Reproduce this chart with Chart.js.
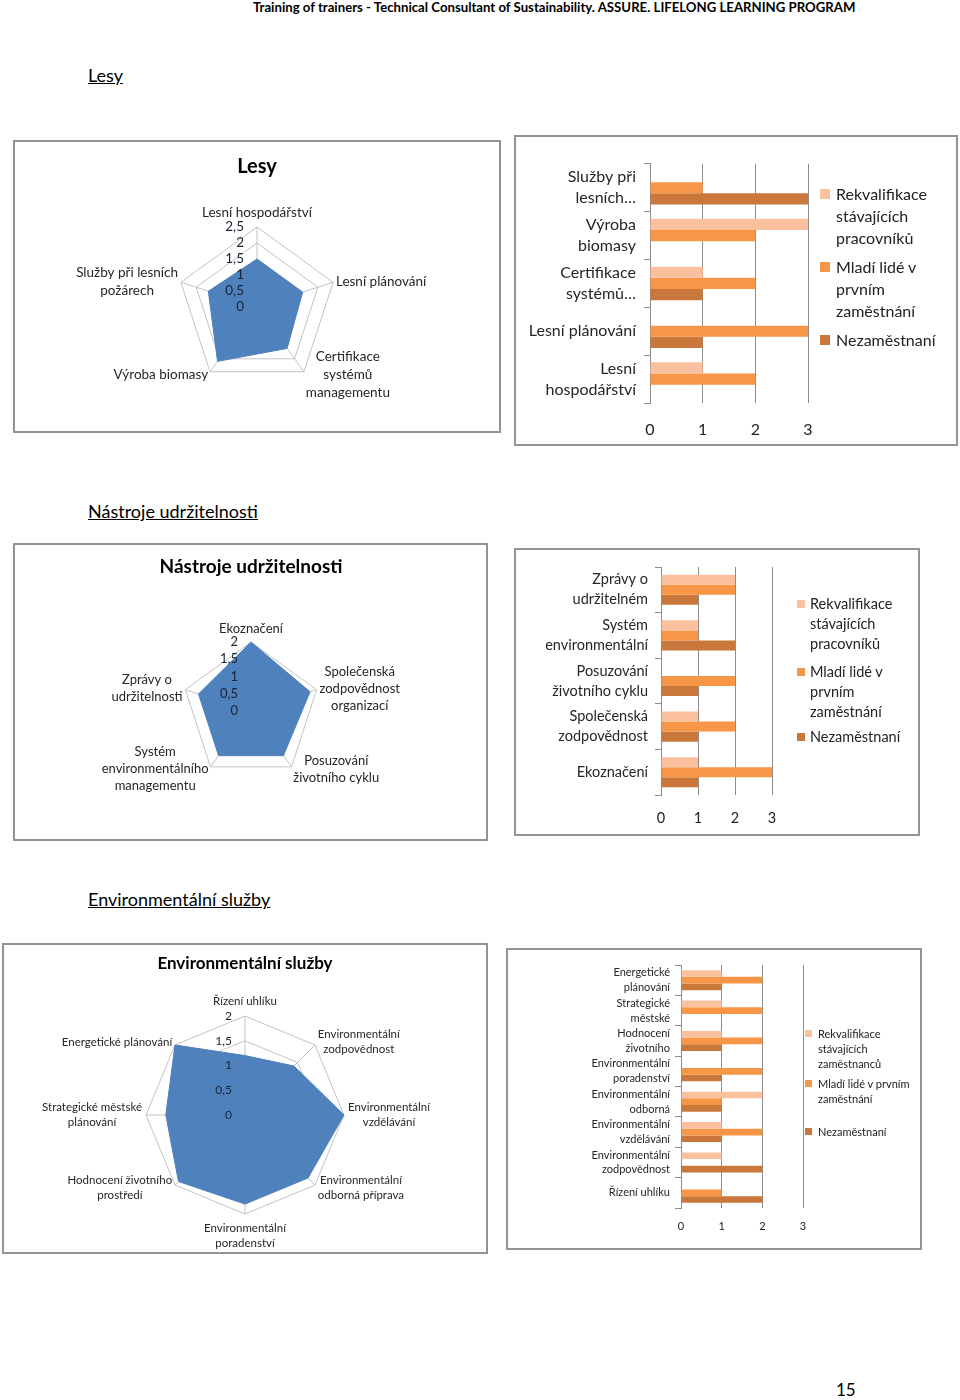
<!DOCTYPE html>
<html>
<head>
<meta charset="utf-8">
<script src="https://cdn.jsdelivr.net/npm/chart.js@4.4.1/dist/chart.umd.min.js"></script>
<style>
  body { margin: 0; background: #fff; font-family: Lato, "Open Sans", sans-serif; color: #000; }
  .page { position: relative; width: 960px; height: 1400px; overflow: hidden; }
  .hdr { position: absolute; left: 253px; top: 0; font-size: 13.2px; font-weight: bold; line-height: 15px; white-space: nowrap; }
  .h2 { position: absolute; left: 88px; font-size: 18px; line-height: 22px; text-decoration: underline; }
  .box { position: absolute; background: #fff; box-shadow: inset 0 0 0 2px #939393; }
  .box canvas { position: absolute; left: 0; top: 0; }
  .rtitle { position: absolute; width: 300px; text-align: center; font-weight: bold; white-space: nowrap; }
  .leg { position: absolute; color: #222; white-space: nowrap; }
  .leg i { position: absolute; left: 0; }
  .pno { position: absolute; left: 836px; top: 1380px; font-size: 17px; line-height: 20px; }
</style>
</head>
<body>
<div class="page">
  <div class="hdr">Training of trainers - Technical Consultant of Sustainability. ASSURE. LIFELONG LEARNING PROGRAM</div>

  <div class="h2" style="top:64px">Lesy</div>
  <div class="box" id="lesyRadarBox" style="left:13px;top:140px;width:488px;height:293px"><canvas id="lesyRadar" width="488" height="293"></canvas></div>
  <div class="box" id="lesyBox" style="left:514px;top:135px;width:444px;height:311px"><canvas id="lesyBar" width="444" height="311"></canvas></div>

  <div class="h2" style="top:500px">Nástroje udržitelnosti</div>
  <div class="box" id="nastrojeRadarBox" style="left:13px;top:543px;width:475px;height:298px"><canvas id="nastrojeRadar" width="475" height="298"></canvas></div>
  <div class="box" id="nastrojeBox" style="left:514px;top:548px;width:406px;height:288px"><canvas id="nastrojeBar" width="406" height="288"></canvas></div>

  <div class="h2" style="top:888px">Environmentální služby</div>
  <div class="box" id="sluzbyRadarBox" style="left:2px;top:943px;width:486px;height:311px"><canvas id="sluzbyRadar" width="486" height="311"></canvas></div>
  <div class="box" id="sluzbyBox" style="left:506px;top:948px;width:416px;height:302px"><canvas id="sluzbyBar" width="416" height="302"></canvas></div>

  <div class="pno">15</div>
</div>

<script>
// --- Lesy ---
const lesyAxes = ["Lesní hospodářství", "Lesní plánování", ["Certifikace", "systémů", "managementu"], "Výroba biomasy", ["Služby při lesních", "požárech"]];
const lesyRadarValues = [1.5, 1.5, 1.6, 2.1, 1.6];
const lesyCategories = [["Služby při", "lesních…"], ["Výroba", "biomasy"], ["Certifikace", "systémů…"], "Lesní plánování", ["Lesní", "hospodářství"]];
const lesyRekvalifikace = [0, 3, 1, 0, 1];
const lesyMladi = [1, 2, 2, 3, 2];
const lesyNezamestnani = [3, 0, 1, 1, 0];

// --- Nástroje udržitelnosti ---
const nastrojeAxes = ["Ekoznačení", ["Společenská", "zodpovědnost", "organizací"], ["Posuzování", "životního cyklu"], ["Systém", "environmentálního", "managementu"], ["Zprávy o", "udržitelnosti"]];
const nastrojeRadarValues = [2, 1.8, 1.6, 1.6, 1.6];
const nastrojeCategories = [["Zprávy o", "udržitelném"], ["Systém", "environmentální"], ["Posuzování", "životního cyklu"], ["Společenská", "zodpovědnost"], "Ekoznačení"];
const nastrojeRekvalifikace = [2, 1, 0, 1, 1];
const nastrojeMladi = [2, 1, 2, 2, 3];
const nastrojeNezamestnani = [1, 2, 1, 1, 1];

// --- Environmentální služby ---
const sluzbyAxes = ["Řízení uhlíku", ["Environmentální", "zodpovědnost"], ["Environmentální", "vzdělávání"], ["Environmentální", "odborná příprava"], ["Environmentální", "poradenství"], ["Hodnocení životního", "prostředí"], ["Strategické městské", "plánování"], "Energetické plánování"];
const sluzbyRadarValues = [1.2, 1.4, 2, 1.8, 1.8, 1.9, 1.6, 2];
const sluzbyCategories = [["Energetické", "plánování"], ["Strategické", "městské"], ["Hodnocení", "životního"], ["Environmentální", "poradenství"], ["Environmentální", "odborná"], ["Environmentální", "vzdělávání"], ["Environmentální", "zodpovědnost"], "Řízení uhlíku"];
const sluzbyRekvalifikace = [1, 1, 1, 0, 2, 1, 1, 0];
const sluzbyMladi = [2, 2, 2, 2, 1, 2, 0, 1];
const sluzbyNezamestnani = [1, 0, 1, 1, 1, 1, 2, 2];

// legend names (line breaks as in the original legends)
const seriesPracovniku = [["Rekvalifikace", "stávajících", "pracovníků"], ["Mladí lidé v", "prvním", "zaměstnání"], ["Nezaměstnaní"]];
const seriesZamestnancu = [["Rekvalifikace", "stávajících", "zaměstnanců"], ["Mladí lidé v prvním", "zaměstnání"], ["Nezaměstnaní"]];
const seriesColors = ["#FBC09E", "#F79646", "#C9773A"];

const FONT = "Lato, 'Open Sans', sans-serif";
Chart.defaults.font.family = FONT;
Chart.defaults.color = "#222";

function fmt(v) {
  return String(v).replace(".", ",");
}

// tick numbers left of the vertical axis and the point labels, placed with the scale
const radarText = {
  id: "radarText",
  afterDatasetsDraw(chart, args, opts) {
    const s = chart.scales.r;
    const ctx = chart.ctx;
    ctx.save();
    ctx.textBaseline = "middle";
    ctx.fillStyle = "#1b2335";
    ctx.textAlign = "right";
    ctx.font = `${opts.tickSize}px ${FONT}`;
    s.ticks.forEach((t) => {
      const p = s.getPointPositionForValue(0, t.value);
      ctx.fillText(fmt(t.value), p.x - 13, p.y);
    });

    ctx.fillStyle = "#262626";
    ctx.textAlign = "center";
    ctx.font = `${opts.labelSize}px ${FONT}`;
    chart.data.labels.forEach((lab, i) => {
      const lines = [].concat(lab);
      const p = s.getPointPosition(i, s.drawingArea + opts.pad);
      const c = Math.cos(p.angle), sn = Math.sin(p.angle);
      const bw = Math.max(...lines.map((l) => ctx.measureText(l).width));
      const bh = lines.length * opts.lineHeight;
      let left, top;
      if (Math.abs(c) < 0.1) {
        left = p.x - bw / 2;
        top = sn < 0 ? p.y - opts.vpad - bh : p.y + opts.vpad;
      } else {
        left = c > 0 ? p.x : p.x - bw;
        top = p.y - bh / 2;
      }
      lines.forEach((l, k) => ctx.fillText(l, left + bw / 2, top + opts.lineHeight * (k + 0.5)));
    });
    ctx.restore();
  },
};

function radarChart(id, boxId, axes, values, o) {
  new Chart(document.getElementById(id), {
    type: "radar",
    data: {
      labels: axes,
      datasets: [{
        data: values,
        backgroundColor: "#4F81BD",
        borderColor: "#4F81BD",
        borderWidth: 1,
        pointRadius: 0,
        fill: true,
      }],
    },
    options: {
      responsive: false,
      animation: false,
      layout: { padding: { left: o.cx - o.r, right: o.w - o.cx - o.r, top: o.cy - o.r, bottom: o.h - o.cy - o.r } },
      plugins: {
        legend: { display: false },
        tooltip: { enabled: false },
        radarText: o.text,
      },
      scales: {
        r: {
          min: 0,
          max: o.max,
          ticks: { stepSize: 0.5, display: false },
          pointLabels: { display: false },
          grid: { color: "#c3c3c3" },
          angleLines: { color: "#c3c3c3" },
        },
      },
    },
    plugins: [radarText],
  });

  // chart title, centred over the radar
  const t = document.createElement("div");
  t.className = "rtitle";
  t.textContent = o.title;
  t.style.cssText = `left:${o.cx - 150}px;top:${o.titleY - o.titleSize * 0.6}px;font-size:${o.titleSize}px;line-height:${o.titleSize * 1.2}px`;
  document.getElementById(boxId).appendChild(t);
}

function barChart(id, boxId, categories, series, names, o) {
  new Chart(document.getElementById(id), {
    type: "bar",
    data: {
      labels: categories,
      datasets: series.map((d, i) => ({
        label: names[i].join(" "),
        data: d,
        backgroundColor: seriesColors[i],
        barPercentage: 1,
        categoryPercentage: o.catPct,
      })),
    },
    options: {
      indexAxis: "y",
      responsive: false,
      animation: false,
      layout: { padding: { left: 0, top: o.top, right: o.right, bottom: 0 } },
      plugins: { legend: { display: false }, tooltip: { enabled: false } },
      scales: {
        x: {
          min: 0,
          max: 3,
          ticks: { stepSize: 1, padding: o.xPad, color: "#222", font: { size: o.font } },
          grid: { color: "#8c8c8c", drawTicks: false },
          border: { display: false },
          afterFit: (s) => { s.height = o.xHeight; },
        },
        y: {
          ticks: { autoSkip: false, padding: o.yPad, color: "#262626", font: { size: o.font, lineHeight: o.lineHeight } },
          grid: { drawOnChartArea: false, tickLength: 6, color: "#8c8c8c" },
          border: { color: "#8c8c8c" },
          afterFit: (s) => { s.width = o.yWidth; },
        },
      },
    },
  });

  // legend with wrapped names like the original
  const box = document.getElementById(boxId);
  names.forEach((lines, i) => {
    const item = document.createElement("div");
    item.className = "leg";
    item.style.cssText = `left:${o.legLeft}px;top:${o.legTops[i]}px;font-size:${o.legFont}px;line-height:${o.legLine}px;padding-left:${o.legText}px`;
    const sq = document.createElement("i");
    sq.style.cssText = `top:${(o.legLine - o.legBox) / 2}px;width:${o.legBox}px;height:${o.legBox}px;background:${seriesColors[i]}`;
    item.appendChild(sq);
    item.insertAdjacentHTML("beforeend", lines.join("<br>"));
    box.appendChild(item);
  });
}

radarChart("lesyRadar", "lesyRadarBox", lesyAxes, lesyRadarValues, {
  w: 488, h: 293, cx: 244, cy: 167, r: 80, max: 2.5,
  title: "Lesy", titleSize: 20, titleY: 25,
  text: { tickSize: 13.5, labelSize: 13.5, lineHeight: 18, pad: 3, vpad: 2 },
});
radarChart("nastrojeRadar", "nastrojeRadarBox", nastrojeAxes, nastrojeRadarValues, {
  w: 475, h: 298, cx: 238, cy: 168, r: 69, max: 2,
  title: "Nástroje udržitelnosti", titleSize: 19, titleY: 23,
  text: { tickSize: 13, labelSize: 13, lineHeight: 17, pad: 3, vpad: 2 },
});
radarChart("sluzbyRadar", "sluzbyRadarBox", sluzbyAxes, sluzbyRadarValues, {
  w: 486, h: 311, cx: 243, cy: 172, r: 99, max: 2,
  title: "Environmentální služby", titleSize: 17, titleY: 20,
  text: { tickSize: 12, labelSize: 11.5, lineHeight: 15, pad: 4, vpad: 3 },
});

barChart("lesyBar", "lesyBox", lesyCategories, [lesyRekvalifikace, lesyMladi, lesyNezamestnani], seriesPracovniku, {
  top: 17, right: 150, yWidth: 136, xHeight: 43, xPad: 17, yPad: 8, font: 16, lineHeight: 1.3, catPct: 0.7,
  legLeft: 306, legText: 16, legBox: 10, legFont: 16, legLine: 22, legTops: [48, 121, 194],
});
barChart("nastrojeBar", "nastrojeBox", nastrojeCategories, [nastrojeRekvalifikace, nastrojeMladi, nastrojeNezamestnani], seriesPracovniku, {
  top: 19, right: 148, yWidth: 147, xHeight: 41, xPad: 15, yPad: 7, font: 14.5, lineHeight: 1.38, catPct: 0.66,
  legLeft: 283, legText: 13, legBox: 8, legFont: 14.5, legLine: 20, legTops: [46, 114, 179],
});
barChart("sluzbyBar", "sluzbyBox", sluzbyCategories, [sluzbyRekvalifikace, sluzbyMladi, sluzbyNezamestnani], seriesZamestnancu, {
  top: 17, right: 119, yWidth: 175, xHeight: 42, xPad: 12, yPad: 5, font: 11, lineHeight: 1.36, catPct: 0.66,
  legLeft: 299, legText: 13, legBox: 7, legFont: 11, legLine: 15, legTops: [78, 128, 176],
});
</script>
</body>
</html>
